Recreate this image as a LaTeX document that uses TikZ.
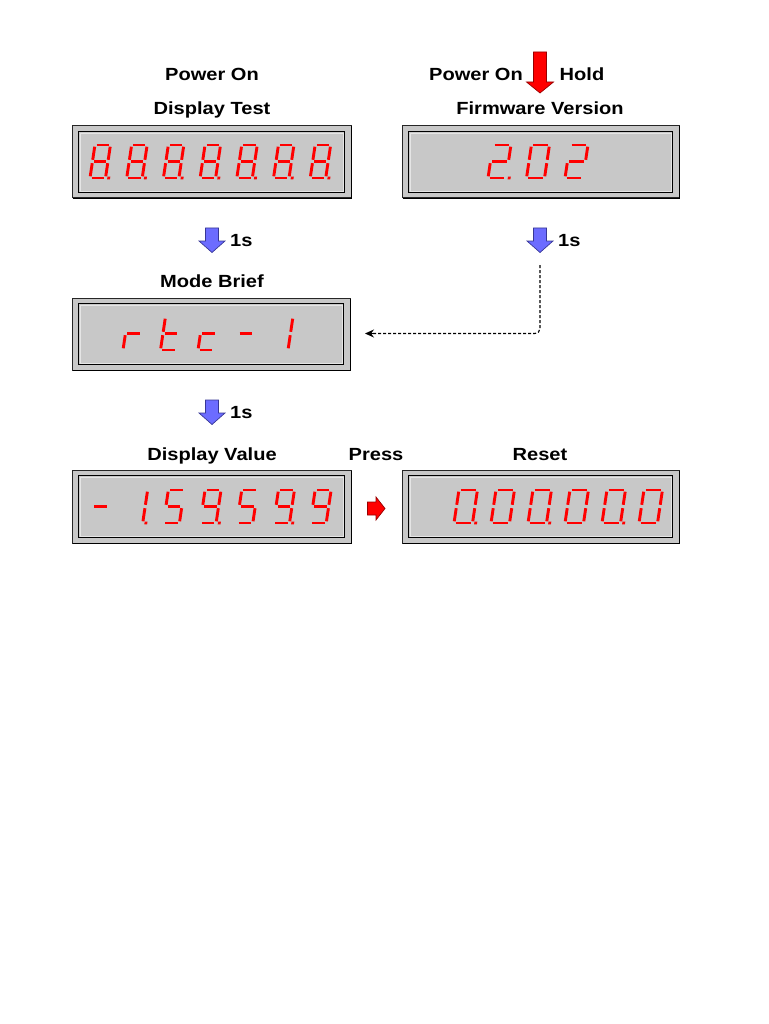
\documentclass[tikz,border=0pt]{standalone}
\usepackage{fontspec}
\usepackage{graphicx}
\setmainfont{Liberation Sans}
\usetikzlibrary{arrows.meta}
\definecolor{panelgray}{RGB}{200,200,200}
\definecolor{segred}{RGB}{255,0,0}
\definecolor{bluefill}{RGB}{108,108,255}
\definecolor{blueedge}{RGB}{55,55,150}
\definecolor{rededge}{RGB}{150,0,0}
\newcommand{\W}[1]{\scalebox{1.14}[1]{#1}}
\newcommand{\segA}{\draw[seg] (1.7,-33) -- ({\w-1.7},-33);}
\newcommand{\segB}{\draw[seg] ({\w},-31.3) -- ({\w},-18.2);}
\newcommand{\segC}{\draw[seg] ({\w},-14.8) -- ({\w},-1.7);}
\newcommand{\segD}{\draw[seg] (1.7,0) -- ({\w-1.7},0);}
\newcommand{\segE}{\draw[seg] (0,-1.7) -- (0,-14.8);}
\newcommand{\segF}{\draw[seg] (0,-18.2) -- (0,-31.3);}
\newcommand{\segG}{\draw[seg] (1.7,-16.5) -- ({\w-1.7},-16.5);}
\newcommand{\segP}{\fill[segred] ({\w+1.8},1.4) rectangle ({\w+4.6},-1.4);}
\newcommand{\dig}[4]{\begin{scope}[shift={(#1,#2)},xslant=0.15]\def\w{#3}#4\end{scope}}
\newcommand{\bluedown}[2]{\draw[bluearr] (#1-6.5,#2) -- (#1+6.5,#2) -- (#1+6.5,#2+13) -- (#1+13,#2+13) -- (#1,#2+24.5) -- (#1-13,#2+13) -- (#1-6.5,#2+13) -- cycle;}
\begin{document}
\begin{tikzpicture}[x=1pt,y=-1pt,
  lbl/.style={font=\bfseries\fontsize{17.6}{20}\selectfont, inner sep=0pt},
  panel/.style={draw=black!85, line width=1pt, fill=panelgray, inner sep=0pt},
  seg/.style={draw=segred, line width=2.9pt, line cap=butt},
  bluearr/.style={fill=bluefill, draw=blueedge, line width=0.7pt, line join=miter},
  redarr/.style={fill=segred, draw=rededge, line width=0.7pt},
  conn/.style={draw=black, line width=1.1pt, dash pattern=on 3pt off 2pt, rounded corners=5pt},
  conntip/.style={draw=black, line width=1.1pt, -{Stealth[length=9pt,width=8pt]}}]
\fill[white] (0,0) rectangle (768,1024);
\useasboundingbox (0,0) rectangle (768,1024);

% panels
\node[panel, minimum width=279pt, minimum height=72pt] (b1) at (211.5,162) {};
\node[panel, minimum width=277pt, minimum height=72pt] (b2) at (540.5,162) {};
\node[panel, minimum width=278pt, minimum height=72pt] (b3) at (211,334) {};
\node[panel, minimum width=279pt, minimum height=73pt] (b4) at (211.5,506.5) {};
\node[panel, minimum width=277pt, minimum height=73pt] (b5) at (540.5,506.5) {};
\foreach \b in {b1,b2,b3,b4,b5}{
  \draw[black, line width=1.3pt] ([shift={(7,6)}]\b.north west) rectangle ([shift={(-7,-6)}]\b.south east);
  \draw[white!90!black, line width=0.6pt] ([shift={(8.6,7.6)}]\b.north west) rectangle ([shift={(-8.6,-7.6)}]\b.south east);
  \draw[black, line width=1pt] ([shift={(1,0)}]\b.south west) -- ([shift={(0,0)}]\b.south east) -- ([shift={(0,1)}]\b.north east);
}

% box 1 : 8.8.8.8.8.8.8.
\foreach \i in {0,...,6}{
  \dig{90+36.7*\i}{178}{15.5}{\segA\segB\segC\segD\segE\segF\segG\segP}
}
% box 2 : 2.02
\dig{488}{178}{18}{\segA\segB\segG\segE\segD\segP}
\dig{526.5}{178}{18}{\segA\segB\segC\segD\segE\segF}
\dig{565}{178}{18}{\segA\segB\segG\segE\segD}
% box 3 : rtc-1
\dig{123}{350}{16}{\segE\segG}
\dig{160.5}{350}{16}{\segD\segE\segF\segG}
\dig{198}{350}{16}{\segD\segE\segG}
\dig{235.5}{350}{16}{\segG}
\dig{272}{350}{16}{\segB\segC}
% box 4 : -1.59.59.9
\dig{90}{523}{16}{\segG}
\dig{126.7}{523}{16}{\segB\segC\segP}
\dig{163.4}{523}{16}{\segA\segF\segG\segC\segD}
\dig{200.1}{523}{16}{\segA\segB\segC\segD\segF\segG\segP}
\dig{236.8}{523}{16}{\segA\segF\segG\segC\segD}
\dig{273.5}{523}{16}{\segA\segB\segC\segD\segF\segG\segP}
\dig{310.2}{523}{16}{\segA\segB\segC\segD\segF\segG}
% box 5 : 0.00.00.0
\dig{454}{523}{18.5}{\segA\segB\segC\segD\segE\segF\segP}
\dig{491}{523}{18.5}{\segA\segB\segC\segD\segE\segF}
\dig{528}{523}{18.5}{\segA\segB\segC\segD\segE\segF\segP}
\dig{565}{523}{18.5}{\segA\segB\segC\segD\segE\segF}
\dig{602}{523}{18.5}{\segA\segB\segC\segD\segE\segF\segP}
\dig{639}{523}{18.5}{\segA\segB\segC\segD\segE\segF}

% labels
\node[lbl, anchor=base] (pon1) at (212,81) {\W{Power On}};
\node[lbl, anchor=base] (dtest) at (212,115) {\W{Display Test}};
\node[lbl, anchor=base] (pon2) at (476,81) {\W{Power On}};
\node[lbl, anchor=base] (hold) at (582,81) {\W{Hold}};
\node[lbl, anchor=base] (fw) at (540,115) {\W{Firmware Version}};
\node[lbl, anchor=base west] (s1) at (230,246) {\W{1s}};
\node[lbl, anchor=base west] (s2) at (558,246) {\W{1s}};
\node[lbl, anchor=base] (mode) at (212,287) {\W{Mode Brief}};
\node[lbl, anchor=base west] (s3) at (230,418) {\W{1s}};
\node[lbl, anchor=base] (dval) at (212,460) {\W{Display Value}};
\node[lbl, anchor=base] (press) at (376,460) {\W{Press}};
\node[lbl, anchor=base] (reset) at (540,460) {\W{Reset}};

% block arrows
\bluedown{212}{228}
\bluedown{540}{228}
\bluedown{212}{400}
\draw[redarr] (533.5,52) -- (546.5,52) -- (546.5,82) -- (553.5,82) -- (540,93) -- (526.5,82) -- (533.5,82) -- cycle;
\draw[redarr] (367.5,502) -- (376,502) -- (376,497) -- (385,508.5) -- (376,520) -- (376,515) -- (367.5,515) -- cycle;

% dashed connector
\coordinate (dA) at (540,265);
\coordinate (dC) at (373,333.5);
\coordinate (dB) at (365,333.5);
\draw[conn] (dA) |- (dC);
\draw[conntip] (dC) -- (dB);
\end{tikzpicture}
\end{document}
